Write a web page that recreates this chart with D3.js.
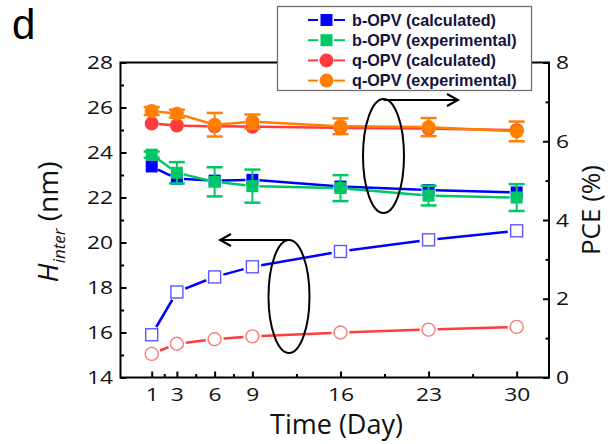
<!DOCTYPE html>
<html><head><meta charset="utf-8">
<script src="https://cdn.jsdelivr.net/npm/d3@7"></script>
<style>
html,body{margin:0;padding:0;background:#fff;}
svg{display:block;}
</style></head>
<body>
<svg id="chart" width="609" height="444"></svg>
<script>
// ---- data ----
const days = [1, 3, 6, 9, 16, 23, 30];
const xTickValues = [1, 3, 6, 9, 16, 23, 30];
const xMinorTicks = [2, 4.5, 7.5, 12.5, 19.5, 26.5];
const leftTicks = [14, 16, 18, 20, 22, 24, 26, 28];
const leftMinor = [15, 17, 19, 21, 23, 25, 27];
const rightTicks = [0, 2, 4, 6, 8];
const rightMinor = [1, 3, 5, 7];

const bCalcH = [15.9, 17.8, 18.47, 18.92, 19.6, 20.12, 20.52];
const qCalcH = [15.05, 15.5, 15.7, 15.83, 16.0, 16.13, 16.25];

const bCalcPCE = [5.36, 5.05, 5.0, 5.02, 4.85, 4.76, 4.7];
const bExpPCE  = [5.66, 5.2, 4.97, 4.86, 4.81, 4.62, 4.57];
const bExpErr  = [0.08, 0.27, 0.37, 0.42, 0.33, 0.25, 0.34];
const qCalcPCE = [6.45, 6.4, 6.38, 6.37, 6.34, 6.32, 6.28];
const qExpPCE  = [6.77, 6.7, 6.42, 6.5, 6.38, 6.36, 6.25];
const qExpErr  = [0.1, 0.1, 0.3, 0.18, 0.2, 0.23, 0.25];

const legendLabels = ["b-OPV (calculated)", "b-OPV (experimental)", "q-OPV (calculated)", "q-OPV (experimental)"];

// ---- layout ----
const L = 120.5, R = 549, T = 62.5, B = 377.5;
const svg = d3.select("#chart");
const x = d3.scaleLinear().domain([-1.48, 32.57]).range([L, R]);
const yL = d3.scaleLinear().domain([14, 28]).range([B, T]);
const yR = d3.scaleLinear().domain([0, 8]).range([B, T]);

const C = {blue:"#0000ff", blueOpen:"#5a5aff", green:"#00c864", red:"#ff3b3b", redOpen:"#ff7a7a", orange:"#ff8000"};
const tickFont = "'Open Sans', sans-serif";
const SX = 1.2;

// ---- series drawing helpers ----
function gapLine(g, xs, ys, color, gap, width) {
  for (let i = 0; i < xs.length - 1; i++) {
    const x1 = xs[i], y1 = ys[i], x2 = xs[i+1], y2 = ys[i+1];
    const dx = x2 - x1, dy = y2 - y1, len = Math.hypot(dx, dy);
    if (len <= 2 * gap) continue;
    const ux = dx / len, uy = dy / len;
    g.append("line")
      .attr("x1", x1 + ux * gap).attr("y1", y1 + uy * gap)
      .attr("x2", x2 - ux * gap).attr("y2", y2 - uy * gap)
      .attr("stroke", color).attr("stroke-width", width);
  }
}
function errBars(g, xs, ys, errs, yScale, color) {
  xs.forEach((d, i) => {
    const px = x(d), top = yScale(ys[i] + errs[i]), bot = yScale(ys[i] - errs[i]);
    g.append("line").attr("x1", px).attr("x2", px).attr("y1", top).attr("y2", bot)
      .attr("stroke", color).attr("stroke-width", 2);
    [top, bot].forEach(yy => g.append("line").attr("x1", px - 8).attr("x2", px + 8)
      .attr("y1", yy).attr("y2", yy).attr("stroke", color).attr("stroke-width", 2.5));
  });
}
function squares(g, xs, ys, yScale, size, fill, stroke, sw) {
  g.selectAll(null).data(xs).enter().append("rect")
    .attr("x", (d) => x(d) - size / 2).attr("y", (d, i) => yScale(ys[i]) - size / 2)
    .attr("width", size).attr("height", size)
    .attr("fill", fill).attr("stroke", stroke).attr("stroke-width", sw);
}
function circles(g, xs, ys, yScale, r, fill, stroke, sw) {
  g.selectAll(null).data(xs).enter().append("circle")
    .attr("cx", (d) => x(d)).attr("cy", (d, i) => yScale(ys[i])).attr("r", r)
    .attr("fill", fill).attr("stroke", stroke).attr("stroke-width", sw);
}

const plot = svg.append("g");
const px = days.map(d => x(d));

// H_inter series (left axis), open markers
gapLine(plot, px, bCalcH.map(v => yL(v)), C.blue, 9, 2.5);
squares(plot, days, bCalcH, yL, 12, "#fff", C.blueOpen, 1.4);
gapLine(plot, px, qCalcH.map(v => yL(v)), C.red, 9, 2.5);
circles(plot, days, qCalcH, yL, 6.5, "#fff", C.redOpen, 1.4);

// PCE series (right axis), filled markers
gapLine(plot, px, bCalcPCE.map(v => yR(v)), C.blue, 7, 2.5);
squares(plot, days, bCalcPCE, yR, 12, C.blue, "none", 0);
gapLine(plot, px, bExpPCE.map(v => yR(v)), C.green, 7, 2.5);
errBars(plot, days, bExpPCE, bExpErr, yR, C.green);
squares(plot, days, bExpPCE, yR, 12, C.green, "none", 0);
gapLine(plot, px, qCalcPCE.map(v => yR(v)), C.red, 7, 2.5);
circles(plot, days, qCalcPCE, yR, 7, C.red, "none", 0);
gapLine(plot, px, qExpPCE.map(v => yR(v)), C.orange, 7, 2.5);
errBars(plot, days, qExpPCE, qExpErr, yR, C.orange);
circles(plot, days, qExpPCE, yR, 7, C.orange, "none", 0);

// ---- ellipses and arrows ----
const ann = svg.append("g").attr("fill", "none").attr("stroke", "#000").attr("stroke-width", 2);
ann.append("ellipse").attr("cx", 383.5).attr("cy", 156).attr("rx", 20.5).attr("ry", 57);
ann.append("path").attr("d", "M383.5,100 H457 M447,94 L458,100 L447,106");
ann.append("ellipse").attr("cx", 289).attr("cy", 296.5).attr("rx", 20.5).attr("ry", 56.5);
ann.append("path").attr("d", "M289,240 H220 M231,234 L220,240 L231,246");

// ---- axes ----
function styleAxis(g) {
  g.select(".domain").remove();
  g.selectAll(".tick line").attr("stroke", "#000").attr("stroke-width", 2);
}
const axL = svg.append("g").attr("transform", `translate(${L},0)`)
  .call(d3.axisLeft(yL).tickValues(leftTicks).tickSizeInner(-6).tickSizeOuter(0).tickPadding(7.5));
styleAxis(axL);
const axLm = svg.append("g").attr("transform", `translate(${L},0)`)
  .call(d3.axisLeft(yL).tickValues(leftMinor).tickSizeInner(-3.5).tickSizeOuter(0).tickFormat(""));
styleAxis(axLm);
const axR = svg.append("g").attr("transform", `translate(${R},0)`)
  .call(d3.axisRight(yR).tickValues(rightTicks).tickSizeInner(-6).tickSizeOuter(0).tickPadding(7).tickFormat(d3.format("d")));
styleAxis(axR);
const axRm = svg.append("g").attr("transform", `translate(${R},0)`)
  .call(d3.axisRight(yR).tickValues(rightMinor).tickSizeInner(-3.5).tickSizeOuter(0).tickFormat(""));
styleAxis(axRm);
const axB = svg.append("g").attr("transform", `translate(0,${B})`)
  .call(d3.axisBottom(x).tickValues(xTickValues).tickSizeInner(-6).tickSizeOuter(0).tickPadding(10).tickFormat(d3.format("d")));
styleAxis(axB);
const axBm = svg.append("g").attr("transform", `translate(0,${B})`)
  .call(d3.axisBottom(x).tickValues(xMinorTicks).tickSizeInner(-3.5).tickSizeOuter(0).tickFormat(""));
styleAxis(axBm);

[axL, axR, axB].forEach(g => {
  g.selectAll(".tick text")
    .attr("font-family", tickFont).attr("font-size", 19).attr("fill", "#111")
    .each(function() {
      const t = d3.select(this);
      const xv = +t.attr("x") || 0;
      t.attr("x", xv / SX).attr("transform", `scale(${SX},1)`);
    });
});

// frame
svg.append("rect").attr("x", L).attr("y", T).attr("width", R - L).attr("height", B - T)
  .attr("fill", "none").attr("stroke", "#000").attr("stroke-width", 2);

// ---- legend ----
const lg = svg.append("g");
lg.append("rect").attr("x", 277.5).attr("y", 6.5).attr("width", 254).attr("height", 84)
  .attr("fill", "#fff").attr("stroke", "#707070").attr("stroke-width", 1.3);
const legColors = [C.blue, C.green, C.red, C.orange];
const legShapes = ["sq", "sq", "ci", "ci"];
legendLabels.forEach((lab, i) => {
  const yy = 20 + i * 20.2;
  lg.append("line").attr("x1", 308).attr("x2", 318).attr("y1", yy).attr("y2", yy).attr("stroke", legColors[i]).attr("stroke-width", 2);
  lg.append("line").attr("x1", 334).attr("x2", 345).attr("y1", yy).attr("y2", yy).attr("stroke", legColors[i]).attr("stroke-width", 2);
  if (legShapes[i] === "sq") {
    lg.append("rect").attr("x", 320.5).attr("y", yy - 6).attr("width", 12).attr("height", 12).attr("fill", legColors[i]);
  } else {
    lg.append("circle").attr("cx", 326.5).attr("cy", yy).attr("r", 7).attr("fill", legColors[i]);
  }
  lg.append("text").attr("x", 352).attr("y", yy).attr("dy", "0.36em")
    .attr("font-family", "'Liberation Sans', Arial, sans-serif").attr("font-weight", "bold")
    .attr("font-size", 16.2).attr("fill", "#14143c").text(lab);
});

// ---- titles ----
const titleFont = "'Open Sans', sans-serif";
svg.append("text").attr("x", 336.5).attr("y", 434).attr("text-anchor", "middle")
  .attr("font-family", titleFont).attr("font-size", 27).attr("fill", "#111").text("Time (Day)");

const yt = svg.append("text").attr("transform", "translate(58,222) rotate(-90)")
  .attr("text-anchor", "middle").attr("font-family", titleFont).attr("fill", "#111");
yt.append("tspan").attr("font-size", 28).attr("font-style", "italic").text("H");
yt.append("tspan").attr("font-size", 17).attr("font-style", "italic").attr("dy", 7).text("inter");
yt.append("tspan").attr("font-size", 28).attr("dy", -7).text(" (nm)");

svg.append("text").attr("transform", "translate(600,210) rotate(-90)")
  .attr("text-anchor", "middle").attr("font-family", titleFont).attr("font-size", 26)
  .attr("fill", "#111").text("PCE (%)");

svg.append("text").attr("x", 12).attr("y", 39).attr("font-family", "'Liberation Sans', Arial, sans-serif")
  .attr("font-size", 42).attr("fill", "#000").text("d");
</script>
</body></html>
